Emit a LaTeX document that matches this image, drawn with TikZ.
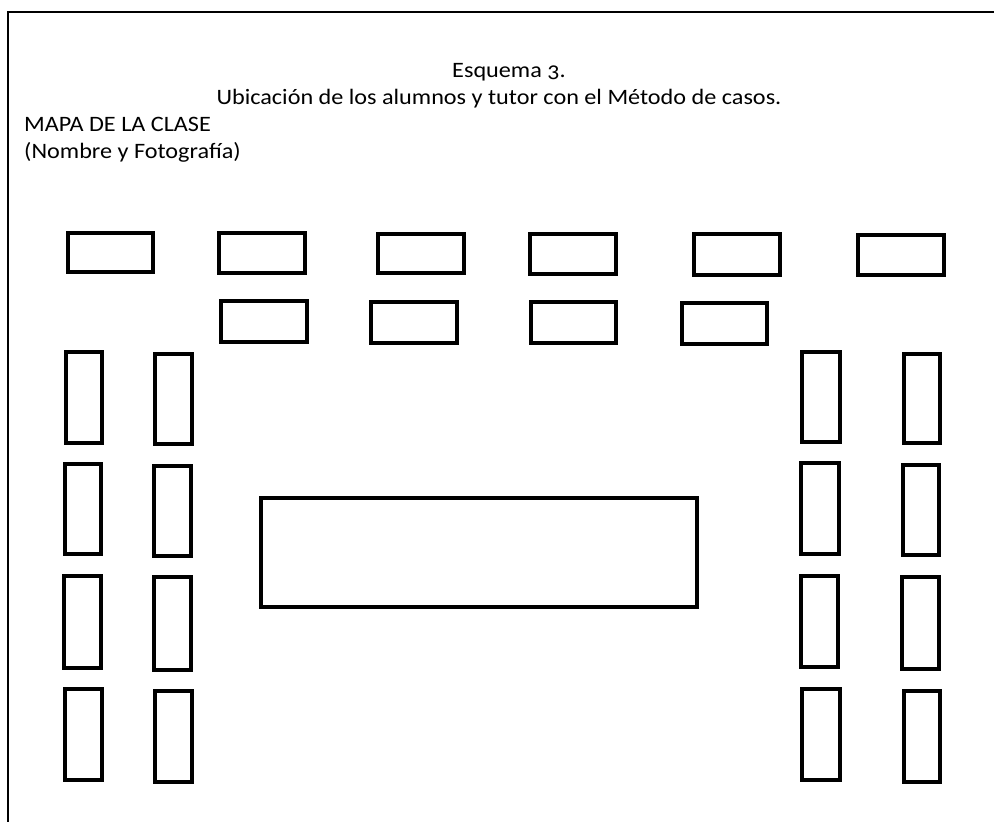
\documentclass[tikz,border=0pt]{standalone}
\usepackage{fontspec}
\setmainfont{Carlito}[Numbers=OldStyle,FakeStretch=1.1]
\begin{document}
\begin{tikzpicture}[x=1pt,y=-1pt,
    mesa/.style={line width=3.2pt},
    texto/.style={inner sep=0pt,anchor=base,font=\fontsize{22}{26}\selectfont}]
\useasboundingbox (0,0) rectangle (994,822);

% marco (solo arriba e izquierda)
\draw[line width=2.8pt] (994,12) -- (8,12);
\draw[line width=1.8pt] (8,11) -- (8,822);

% titulos
\node[texto] (titulo) at (509,77) {Esquema 3.};
\node[texto] (subtitulo) at (499,104) {Ubicación de los alumnos y tutor con el Método de casos.};
\node[texto,anchor=base west] (mapa) at (24,131) {MAPA DE LA CLASE};
\node[texto,anchor=base west] (nombre) at (24,158) {(Nombre y Fotografía)};

% primera fila de mesas
\draw[mesa] (68,233)  rectangle (153,272);
\draw[mesa] (219,233) rectangle (305,273);
\draw[mesa] (378,234) rectangle (464,273);
\draw[mesa] (530,234) rectangle (616,274);
\draw[mesa] (694,234) rectangle (780,275);
\draw[mesa] (858,235) rectangle (944,275);

% segunda fila de mesas
\draw[mesa] (221,301) rectangle (307,342);
\draw[mesa] (371,302) rectangle (457,343);
\draw[mesa] (531,302) rectangle (616,343);
\draw[mesa] (682,303) rectangle (767,344);

% columnas de la izquierda
\draw[mesa] (66,352)  rectangle (102,443);
\draw[mesa] (155,354) rectangle (192,444);
\draw[mesa] (65,464)  rectangle (101,554);
\draw[mesa] (154,466) rectangle (191,556);
\draw[mesa] (64,576)  rectangle (101,668);
\draw[mesa] (154,577) rectangle (191,670);
\draw[mesa] (65,689)  rectangle (102,780);
\draw[mesa] (155,691) rectangle (192,782);

% columnas de la derecha
\draw[mesa] (802,352) rectangle (840,442);
\draw[mesa] (904,354) rectangle (940,443);
\draw[mesa] (801,463) rectangle (839,554);
\draw[mesa] (903,465) rectangle (939,555);
\draw[mesa] (801,576) rectangle (838,667);
\draw[mesa] (902,577) rectangle (939,669);
\draw[mesa] (802,689) rectangle (840,780);
\draw[mesa] (904,691) rectangle (940,782);

% mesa del tutor
\draw[mesa] (261,498) rectangle (697,607);

\end{tikzpicture}
\end{document}
